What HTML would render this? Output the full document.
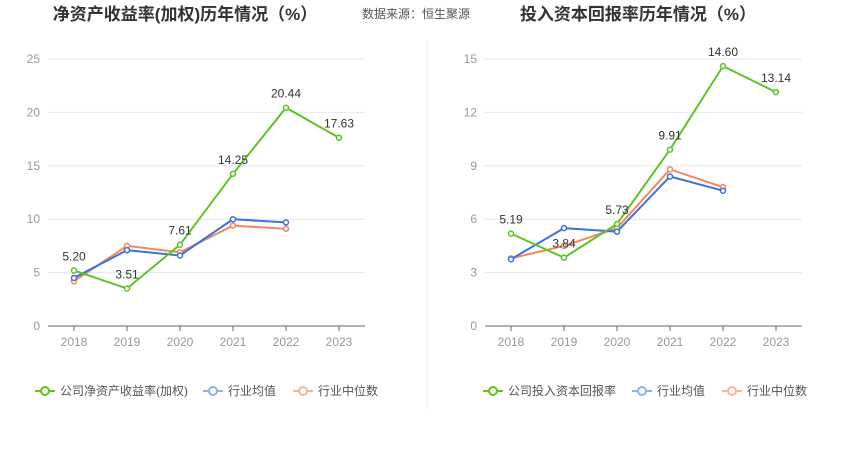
<!DOCTYPE html>
<html><head><meta charset="utf-8"><style>
body{margin:0;background:#fff;font-family:"Liberation Sans","Noto Sans CJK SC",sans-serif;}
svg text{font-family:"Liberation Sans","Noto Sans CJK SC",sans-serif;}
</style></head><body>
<svg id="s" width="850" height="458">
<text x="185" y="20" text-anchor="middle" font-size="17" font-weight="bold" fill="#333">净资产收益率(加权)历年情况（%）</text>
<text x="362" y="18" font-size="12" fill="#555">数据来源：恒生聚源</text>
<text x="638" y="20" text-anchor="middle" font-size="17" font-weight="bold" fill="#333">投入资本回报率历年情况（%）</text>
<line x1="427" y1="40" x2="427" y2="410" stroke="#eee"/>
</svg>
<script>
const years=["2018","2019","2020","2021","2022","2023"];
const roe=[5.20,3.51,7.61,14.25,20.44,17.63];
const roeAvg=[4.5,7.1,6.6,10.0,9.7];
const roeMed=[4.2,7.5,6.9,9.4,9.1];
const leftTicks=[0,5,10,15,20,25];
const roic=[5.19,3.84,5.73,9.91,14.60,13.14];
const roicAvg=[3.75,5.5,5.3,8.4,7.6];
const roicMed=[3.8,4.5,5.5,8.8,7.8];
const rightTicks=[0,3,6,9,12,15];
const NS="http://www.w3.org/2000/svg";
const svg=document.getElementById('s');
function mk(t,a,p){const e=document.createElementNS(NS,t);for(const k in a)e.setAttribute(k,a[k]);(p||svg).appendChild(e);return e;}
function chart(o){
 const g=mk('g',{});
 
 
 const x=i=>o.x0+o.step*i, y=v=>326-(v/o.max)*267;
 o.ticks.forEach(t=>{
  const l=mk('line',{x1:o.l,x2:o.r,y1:y(t),y2:y(t),stroke:t?'#e3e8f0':'#666'},g);
  
  
  const tx=mk('text',{x:o.l-8,y:y(t)+4,'text-anchor':'end','font-size':12,fill:'#999'},g);
  tx.textContent=t;
  
  
 });
 years.forEach((yr,i)=>{
  const tk=mk('line',{x1:x(i),x2:x(i),y1:326,y2:331,stroke:'#666'},g);
  
  
  const tx=mk('text',{x:x(i),y:346,'text-anchor':'middle','font-size':12,fill:'#999'},g);
  tx.textContent=yr;
  
  
 });
 const series=[[o.med,'#f5875a','median'],[o.avg,'#3a72e0','average'],[o.main,'#5cc425','company']];
 series.forEach(([d,c,n])=>{
  const pl=mk('polyline',{points:d.map((v,i)=>x(i)+','+y(v)).join(' '),fill:'none',stroke:c,'stroke-width':2},g);
  
  
  d.forEach((v,i)=>{
   const ci=mk('circle',{cx:x(i),cy:y(v),r:2.5,fill:'#fff',stroke:c,'stroke-width':1.5},g);
   
   
  });
 });
 o.main.forEach((v,i)=>{
  const tx=mk('text',{x:x(i),y:y(v)-10,'text-anchor':'middle','font-size':12,fill:'#333'},g);
  tx.textContent=v.toFixed(2);
  
  
 });
 const leg=[[o.lab,'#5cc425',o.lx[0]],['行业均值','#8fb0ee',o.lx[1]],['行业中位数','#f7b49a',o.lx[2]]];
 leg.forEach(([t,c,lx])=>{
  const lg=mk('g',{},g);
  
  
  mk('line',{x1:lx,x2:lx+20,y1:391,y2:391,stroke:c,'stroke-width':2},lg);
  mk('circle',{cx:lx+10,cy:391,r:4,fill:'#fff',stroke:c,'stroke-width':2},lg);
  const tx=mk('text',{x:lx+25,y:395,'font-size':12,fill:'#555'},lg);
  tx.textContent=t;
 });
}
chart({name:'roe-chart',x0:74,step:53,l:48,r:365,max:25,ticks:leftTicks,main:roe,avg:roeAvg,med:roeMed,lab:'公司净资产收益率(加权)',lx:[35,203,293]});
chart({name:'roic-chart',x0:511,step:53,l:485,r:802,max:15,ticks:rightTicks,main:roic,avg:roicAvg,med:roicMed,lab:'公司投入资本回报率',lx:[483,632,722]});
</script>
</body></html>
